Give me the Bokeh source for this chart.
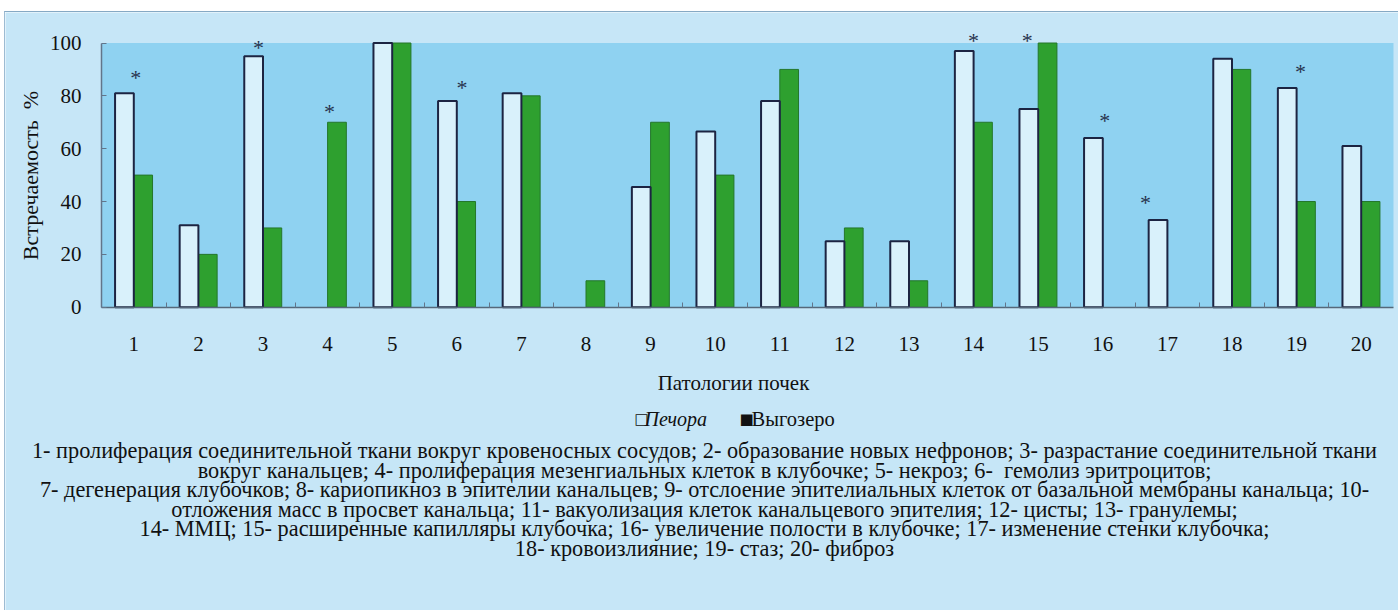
from bokeh.plotting import figure
from bokeh.models import Range1d, FixedTicker, ColumnDataSource
from bokeh.core.properties import value
from bokeh.embed import file_html
from bokeh.resources import INLINE

# Kidney pathology frequency (%), two lake populations
categories = list(range(1, 21))
pechora = [81, 31, 95, 0, 100, 78, 81, 0, 45.5, 66.5, 78, 25, 25, 97, 75, 64, 33, 94, 83, 61]
vygozero = [50, 20, 30, 70, 100, 40, 80, 10, 70, 50, 90, 30, 10, 70, 100, 0, 0, 90, 40, 40]

# significance marks: category, shift within the category, height (%)
star_cats = [1, 3, 4, 6, 14, 15, 16, 17, 19]
star_shift = [0.03, -0.07, 0.03, 0.08, 0.0, -0.17, 0.03, -0.34, 0.06]
star_levels = [87.5, 98.5, 74.5, 83.5, 101.3, 101.3, 71.0, 40.0, 89.5]

y_ticks = [0, 20, 40, 60, 80, 100]
y_title = "Встречаемость\u00a0\u00a0%"
x_title = "Патологии почек"
series_names = ["Печора", "Выгозеро"]
notes = [
    "1- пролиферация соединительной ткани вокруг кровеносных сосудов; 2- образование новых нефронов; 3- разрастание соединительной ткани",
    "вокруг канальцев; 4- пролиферация мезенгиальных клеток в клубочке; 5- некроз; 6-\u00a0 гемолиз эритроцитов;",
    "7- дегенерация клубочков; 8- кариопикноз в эпителии канальцев; 9- отслоение эпителиальных клеток от базальной мембраны канальца; 10-",
    "отложения масс в просвет канальца; 11- вакуолизация клеток канальцевого эпителия; 12- цисты; 13- гранулемы;",
    "14- ММЦ; 15- расширенные капилляры клубочка; 16- увеличение полости в клубочке; 17- изменение стенки клубочка;",
    "18- кровоизлияние; 19- стаз; 20- фиброз",
]

OUTER = "#c6e6f7"
PANEL = "#8fd2f1"
BAR_LIGHT = "#d9f1fb"
BAR_EDGE = "#1c2442"
GREEN = "#2ea02f"
INK = "#111111"
AXIS = "#62758a"
SERIF = "Liberation Serif"

BAR_W = 0.29
SHIFT = 0.145

# one category = 64.6 px, 1 % = 2.642 px; the data area starts at page x=101, zero sits at page y=306.7
def at_x(px):
    return 0.5 + (px - 101) / 64.6


def at_y(py):
    return (306.7 - py) / 2.642


# the figure sits 5 px in from the left and 12 px down from the top of the page
W, H = 1394, 599
p = figure(
    width=W, height=H,
    x_range=Range1d(at_x(5), at_x(5 + W)), y_range=Range1d(at_y(12 + H), at_y(12)),
    output_backend="svg", toolbar_location=None,
    min_border_left=0, min_border_right=0, min_border_top=0, min_border_bottom=0,
    background_fill_color=OUTER, border_fill_color=OUTER,
)
p.margin = (11, 0, 0, 4)
p.styles = {"border-top": "1px solid #86a9c4", "border-left": "1px solid #9dbbd2"}
p.outline_line_color = None
p.xgrid.visible = False
p.ygrid.visible = False

# plotting panel
p.quad(left=0.5, right=20.5, bottom=0, top=100, fill_color=PANEL, line_color=None)

pe = ColumnDataSource(dict(
    x=[c - SHIFT for c, v in zip(categories, pechora) if v > 0],
    top=[v for v in pechora if v > 0],
))
vy = ColumnDataSource(dict(
    x=[c + SHIFT for c, v in zip(categories, vygozero) if v > 0],
    top=[v for v in vygozero if v > 0],
))
p.vbar(x="x", top="top", width=BAR_W, bottom=0, source=vy,
       fill_color=GREEN, line_color="#24762b", line_width=1)
p.vbar(x="x", top="top", width=BAR_W, bottom=0, source=pe,
       fill_color=BAR_LIGHT, line_color=BAR_EDGE, line_width=2)

stars = ColumnDataSource(dict(
    x=[c + s for c, s in zip(star_cats, star_shift)],
    y=star_levels,
    t=["*"] * len(star_cats),
))
p.text(x="x", y="y", text="t", source=stars, text_font=value(SERIF),
       text_font_size="22px", text_color="#27324d", text_align="center",
       text_baseline="middle", y_offset=1)

# axes, pinned to the panel corner
p.yaxis.fixed_location = 0.5
p.yaxis.ticker = FixedTicker(ticks=y_ticks)
p.yaxis.bounds = (0, 100)
p.yaxis.major_tick_in = 5
p.yaxis.major_tick_out = 0
p.yaxis.minor_tick_line_color = None
p.yaxis.axis_line_color = AXIS
p.yaxis.axis_line_width = 1.5
p.yaxis.major_tick_line_color = AXIS
p.yaxis.major_label_standoff = 20
p.yaxis.major_label_text_font = SERIF
p.yaxis.major_label_text_font_size = "21px"
p.yaxis.major_label_text_color = INK
p.yaxis.axis_label = y_title
p.yaxis.axis_label_text_font = SERIF
p.yaxis.axis_label_text_font_style = "normal"
p.yaxis.axis_label_text_font_size = "22px"
p.yaxis.axis_label_text_color = INK
p.yaxis.axis_label_standoff = 4

p.xaxis.fixed_location = 0
p.xaxis.ticker = FixedTicker(ticks=categories, minor_ticks=[c + 0.5 for c in categories[:-1]])
p.xaxis.bounds = (0.5, 20.5)
p.xaxis.major_tick_line_color = None
p.xaxis.minor_tick_in = 5
p.xaxis.minor_tick_out = 0
p.xaxis.minor_tick_line_color = AXIS
p.xaxis.axis_line_color = "#55687a"
p.xaxis.axis_line_width = 1.5
p.xaxis.major_label_standoff = 24
p.xaxis.major_label_text_font = SERIF
p.xaxis.major_label_text_font_size = "21px"
p.xaxis.major_label_text_color = INK

# axis title and legend line
p.text(x=[at_x(733)], y=[at_y(382)], text=[x_title], text_font=value(SERIF),
       text_font_size="21px", text_color=INK, text_align="center", text_baseline="middle")

legend_bits = [
    (634, "\u25a1", "DejaVu Sans", "normal", "15px"),
    (644, series_names[0], SERIF, "italic", "20px"),
    (739, "\u25a0", "DejaVu Sans", "normal", "15px"),
    (751, series_names[1], SERIF, "normal", "20.5px"),
]
for px, txt, font, style, size in legend_bits:
    p.text(x=[at_x(px)], y=[at_y(418)], text=[txt], text_font=value(font),
           text_font_style=style, text_font_size=size, text_color=INK,
           text_align="left", text_baseline="middle")

# key to the category numbers
notes_src = ColumnDataSource(dict(
    x=[at_x(704)] * len(notes),
    y=[at_y(450 + 19.6 * i) for i in range(len(notes))],
    t=notes,
))
p.text(x="x", y="y", text="t", source=notes_src, text_font=value(SERIF),
       text_font_size="22.3px", text_color=INK, text_align="center", text_baseline="middle")

open("out.html", "w").write(file_html(p, INLINE))
